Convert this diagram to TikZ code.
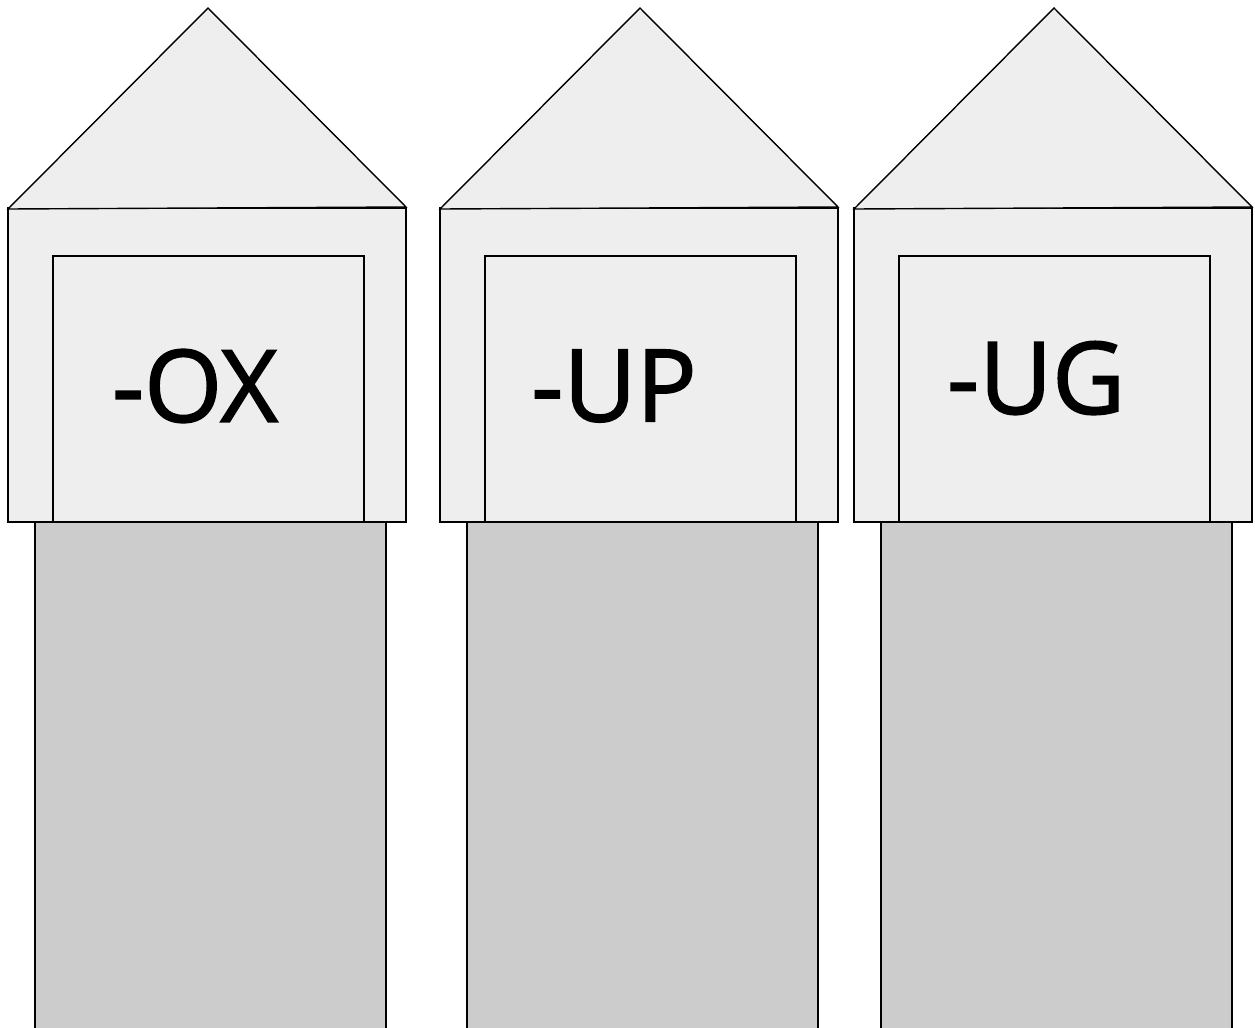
\documentclass[tikz,border=0pt]{standalone}
\usepackage{fontspec}
\setmainfont{Open Sans}
\newfontfamily\tagfont{Open Sans}[BoldFont=Open Sans,BoldFeatures={FakeBold=1.6}]
\usepackage{tikz}
\definecolor{Wall}{HTML}{EEEEEE}
\definecolor{Pillar}{HTML}{CCCCCC}
\tikzset{part/.style={draw=black,fill=Wall,line width=.8pt,line join=miter},
  post/.style={draw=black,fill=Pillar,line width=.8pt},
  tag/.style={font=\tagfont\bfseries\fontsize{57}{60}\selectfont,text=black,inner sep=0pt}}
\begin{document}
\begin{tikzpicture}[x=.02cm,y=-.02cm]
  \useasboundingbox (0,0) rectangle (1255,1028);
  \clip (0,0) rectangle (1255,1028);
  % one house per suffix: left edge of box / text centre
  \foreach \l/\tx/\ty/\name/\word in {8/195/386/ox/-OX,440/614/386/up/-UP,854/1036/378/ug/-UG}{
    \draw[post] (\l+27,522) rectangle (\l+378,1060);
    \draw[part] (\l,208) rectangle (\l+398,522);
    \draw[part] (\l+45,256) rectangle (\l+356,522);
    \draw[part] (\l,209) -- (\l+200,8) -- (\l+398,207) -- cycle;
    \node[tag] (\name) at (\tx,\ty) {\word};
  }
\end{tikzpicture}
\end{document}
